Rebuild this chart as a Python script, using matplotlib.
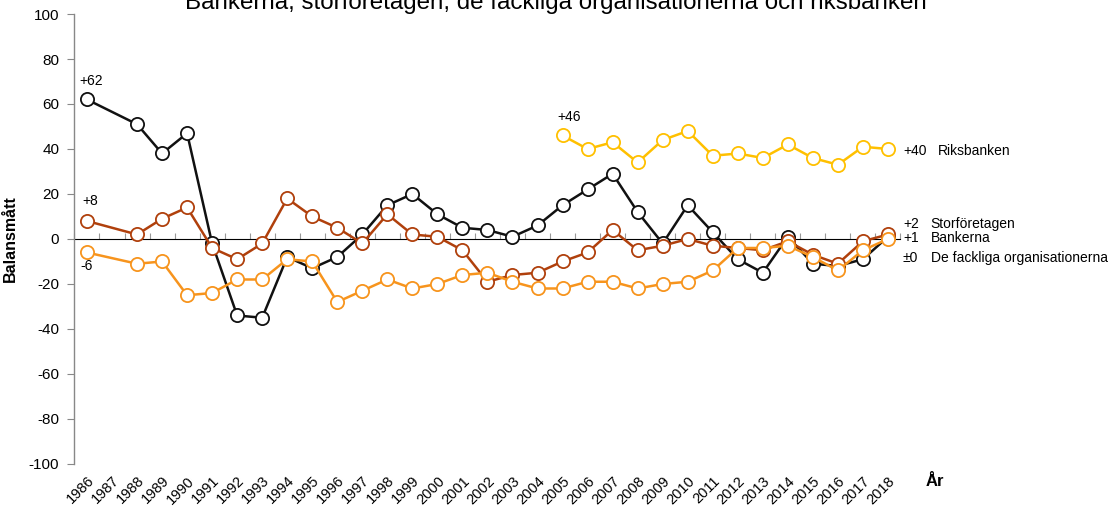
import numpy as np
import matplotlib
matplotlib.use("Agg")
import matplotlib.pyplot as plt

plt.rcParams['font.family'] = ['Liberation Sans', 'DejaVu Sans']
plt.rcParams['axes.unicode_minus'] = False

# Years on the category axis
years = list(range(1986, 2019))
nan = np.nan

# Balansmått per series (1987 missing)
bankerna = [62, nan, 51, 38, 47, -2, -34, -35, -8, -13, -8, 2, 15, 20, 11, 5, 4, 1, 6,
            15, 22, 29, 12, -2, 15, 3, -9, -15, 1, -11, -12, -9, 1]
storforetagen = [8, nan, 2, 9, 14, -4, -9, -2, 18, 10, 5, -2, 11, 2, 1, -5, -19, -16, -15,
                 -10, -6, 4, -5, -3, 0, -3, -4, -5, -1, -7, -11, -1, 2]
fackliga = [-6, nan, -11, -10, -25, -24, -18, -18, -9, -10, -28, -23, -18, -22, -20, -16, -15, -19, -22,
            -22, -19, -19, -22, -20, -19, -14, -4, -4, -3, -8, -14, -5, 0]
riksbanken = [nan] * 19 + [46, 40, 43, 34, 44, 48, 37, 38, 36, 42, 36, 33, 41, 40]

series_names = ['Bankerna', 'Storföretagen', 'De fackliga organisationerna', 'Riksbanken']
series_colors = ['#111111', '#B0400C', '#F7941D', '#FFC000']
end_labels = ['+1', '+2', '\u00b10', '+40']
end_label_y = [0.4, 6.7, -8.5, 39.3]

fig = plt.figure(figsize=(11.08, 5.11), dpi=100)
ax = fig.add_axes([0.0672, 0.092, 0.7455, 0.8806])

x = np.arange(len(years))
for vals, col in zip([bankerna, storforetagen, fackliga, riksbanken], series_colors):
    v = np.array(vals, dtype=float)
    ok = ~np.isnan(v)
    ax.plot(x[ok], v[ok], color=col, lw=1.8, marker='o', markersize=9.5,
            markerfacecolor='white', markeredgecolor=col, markeredgewidth=1.3)

ax.set_xlim(-0.5, len(years) - 0.5)
ax.set_ylim(-100, 100)
ax.set_yticks(range(-100, 101, 20))
ax.tick_params(axis='y', direction='out', length=5, color='#888888', labelsize=11, pad=6)

ax.set_xticks(x)
ax.set_xticklabels([str(y) for y in years], rotation=45, ha='right', rotation_mode='anchor',
                   fontsize=10.5)
ax.tick_params(axis='x', length=0, pad=7)

for s in ['top', 'right', 'bottom']:
    ax.spines[s].set_visible(False)
ax.spines['left'].set_color('#888888')
ax.spines['left'].set_linewidth(1.0)

# axis line at zero with category boundary ticks
sec = ax.secondary_xaxis(0.5)
sec.set_xticks(np.arange(-0.5, len(years), 1.0))
sec.set_xticklabels([])
sec.tick_params(direction='out', length=4, color='#999999')
sec.spines['bottom'].set_color('#999999')
sec.spines['bottom'].set_linewidth(1.2)

ax.set_ylabel('Balansmått', fontsize=11.5, fontweight='bold')
ax.yaxis.set_label_coords(-0.068, 0.5)
fig.text(0.8435, 0.057, 'År', fontsize=12, fontweight='bold', ha='center', va='center')

# title sits partly above the top edge, like the reference
fig.text(0.502, 0.995, 'Bankerna, storföretagen, de fackliga organisationerna och riksbanken',
         fontsize=17.4, ha='center', va='center')

# start value labels
ax.text(-0.3, 70, '+62', fontsize=10, va='center')
ax.text(-0.2, 17, '+8', fontsize=10, va='center')
ax.text(-0.25, -12, '-6', fontsize=10, va='center')
ax.text(18.8, 54, '+46', fontsize=10, va='center')

# end labels
for lab, name, yv in zip(end_labels, series_names, end_label_y):
    ax.text(32.6, yv, lab, fontsize=10, va='center', clip_on=False)
    ax.text(34.0 if name == 'Riksbanken' else 33.7, yv, name, fontsize=10, va='center', clip_on=False)

fig.savefig('out.png', dpi=100)
